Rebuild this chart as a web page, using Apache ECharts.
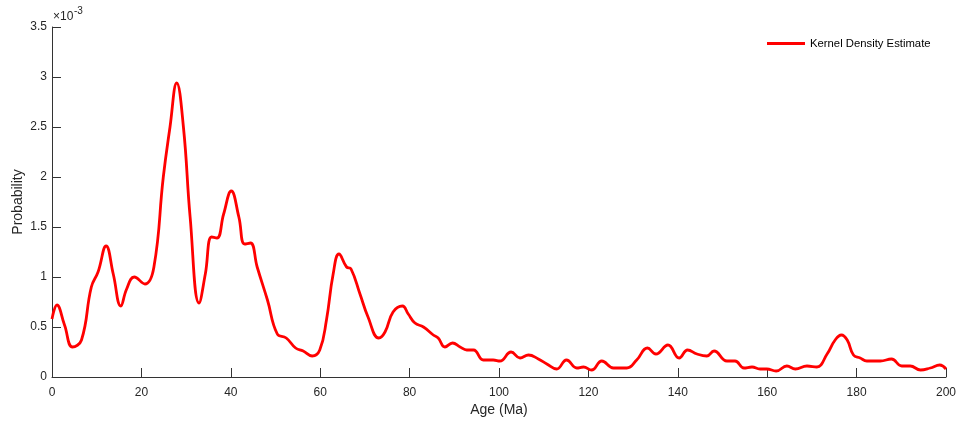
<!DOCTYPE html>
<html>
<head>
<meta charset="utf-8">
<script src="https://cdn.jsdelivr.net/npm/echarts@6/dist/echarts.min.js"></script>
<style>
html,body{margin:0;padding:0;background:#fff;}
#chart{width:959px;height:423px;}
</style>
</head>
<body>
<div id="chart"></div>
<script>
// Age (Ma)
const ages = [0, 1.1, 2.8, 4.6, 6.6, 8.8, 10.3, 12.1, 13.7, 15.4, 16.7, 18.4, 20.8, 22.8, 24.9, 26.4, 27.9, 29.4, 30.9, 32.9,
  34.3, 35.7, 36.9, 38.4, 40.1, 41.8, 43.1, 44.4, 45.9, 48.2, 50.4, 52.4, 54.5, 56.2, 58.2, 59.9, 61.4, 62.9, 64.2, 65.9,
  66.9, 68.9, 70.7, 73.1, 74.5, 76.3, 78.4, 79.7, 81.2, 83.1, 85.3, 86.4, 87.9, 89.6, 91.3, 92.8, 94.3, 96.5, 98.7, 100.2,
  102.7, 104.7, 106.6, 108.8, 110.7, 112.9, 115.1, 117.4, 118.9, 120.7, 123, 125.6, 128.6, 130.8, 133.2, 135.1, 137.8, 140.3, 142.2, 144.3,
  146.5, 148.1, 151, 152.8, 154.8, 156.6, 158.4, 159.9, 162, 164.4, 166.3, 168.9, 171.1, 173.4, 175.2, 176.6, 177.9, 179.3, 180.8, 182.3,
  185.3, 187.8, 190.1, 192, 194.3, 196.5, 198.6, 200];
// Probability, in units of 10^-3
const density = [0.58, 0.72, 0.52, 0.30, 0.37, 0.90, 1.05, 1.31, 1.03, 0.71, 0.88, 1.00, 0.93, 1.10, 2.00, 2.50, 2.94, 2.50, 1.60, 0.74,
  1.03, 1.40, 1.39, 1.63, 1.86, 1.60, 1.33, 1.34, 1.10, 0.77, 0.43, 0.39, 0.29, 0.26, 0.21, 0.27, 0.57, 1.03, 1.23, 1.10,
  1.08, 0.83, 0.60, 0.39, 0.45, 0.65, 0.71, 0.63, 0.54, 0.50, 0.42, 0.39, 0.30, 0.34, 0.30, 0.27, 0.27, 0.17, 0.17, 0.16,
  0.25, 0.19, 0.22, 0.18, 0.13, 0.08, 0.17, 0.09, 0.10, 0.07, 0.16, 0.09, 0.09, 0.17, 0.29, 0.23, 0.32, 0.19, 0.27, 0.23,
  0.21, 0.26, 0.16, 0.16, 0.09, 0.10, 0.08, 0.08, 0.06, 0.11, 0.08, 0.11, 0.10, 0.23, 0.37, 0.42, 0.37, 0.22, 0.19, 0.16,
  0.16, 0.18, 0.11, 0.11, 0.07, 0.09, 0.12, 0.08];
const seriesName = 'Kernel Density Estimate';
const xTitle = 'Age (Ma)';
const yTitle = 'Probability';
const yMultiplierBase = '×10';
const yExponent = '-3';

const axisColor = '#333333';
const textColor = '#262626';
const font = 'Liberation Sans, Arial, Helvetica, sans-serif';

const chart = echarts.init(document.getElementById('chart'), null, {renderer: 'canvas'});
chart.setOption({
  animation: false,
  backgroundColor: '#ffffff',
  textStyle: {fontFamily: font},
  grid: {left: 52, right: 13, top: 27, bottom: 46, containLabel: false, outerBoundsMode: 'none'},
  legend: {
    left: 762, top: 33,
    icon: 'rect', itemWidth: 38, itemHeight: 3, itemGap: 5,
    textStyle: {fontSize: 11.3, color: '#000', fontFamily: font},
    data: [seriesName]
  },
  graphic: [
    {type: 'text', x: 53, y: 17, silent: true,
      style: {text: yMultiplierBase, fontSize: 12, fill: textColor, fontFamily: font, textAlign: 'left', textVerticalAlign: 'middle'}},
    {type: 'text', x: 74, y: 11.5, silent: true,
      style: {text: yExponent, fontSize: 10, fill: textColor, fontFamily: font, textAlign: 'left', textVerticalAlign: 'middle'}}
  ],
  xAxis: {
    type: 'value', min: 0, max: 200, interval: 20,
    name: xTitle, nameLocation: 'middle', nameGap: 26, nameMoveOverlap: false,
    nameTextStyle: {fontSize: 14, color: textColor, fontFamily: font},
    axisLine: {show: true, onZero: false, lineStyle: {color: axisColor, width: 1}},
    axisTick: {show: true, inside: true, length: 9, lineStyle: {color: axisColor, width: 1}},
    axisLabel: {fontSize: 12, color: textColor, margin: 10, fontFamily: font},
    splitLine: {show: false}
  },
  yAxis: {
    type: 'value', min: 0, max: 3.5, interval: 0.5,
    name: yTitle, nameLocation: 'middle', nameGap: 27, nameMoveOverlap: false,
    nameTextStyle: {fontSize: 14, color: textColor, fontFamily: font},
    axisLine: {show: true, onZero: false, lineStyle: {color: axisColor, width: 1}},
    axisTick: {show: true, inside: true, length: 9, lineStyle: {color: axisColor, width: 1}},
    axisLabel: {fontSize: 12, color: textColor, margin: 5, fontFamily: font,
      formatter: v => String(+v.toFixed(1))},
    splitLine: {show: false}
  },
  series: [{
    name: seriesName,
    type: 'line',
    data: ages.map((a, i) => [a, density[i]]),
    smooth: 0.45,
    showSymbol: false,
    symbol: 'none',
    lineStyle: {color: '#ff0000', width: 2.8},
    itemStyle: {color: '#ff0000'},
    clip: false
  }]
});
</script>
</body>
</html>
